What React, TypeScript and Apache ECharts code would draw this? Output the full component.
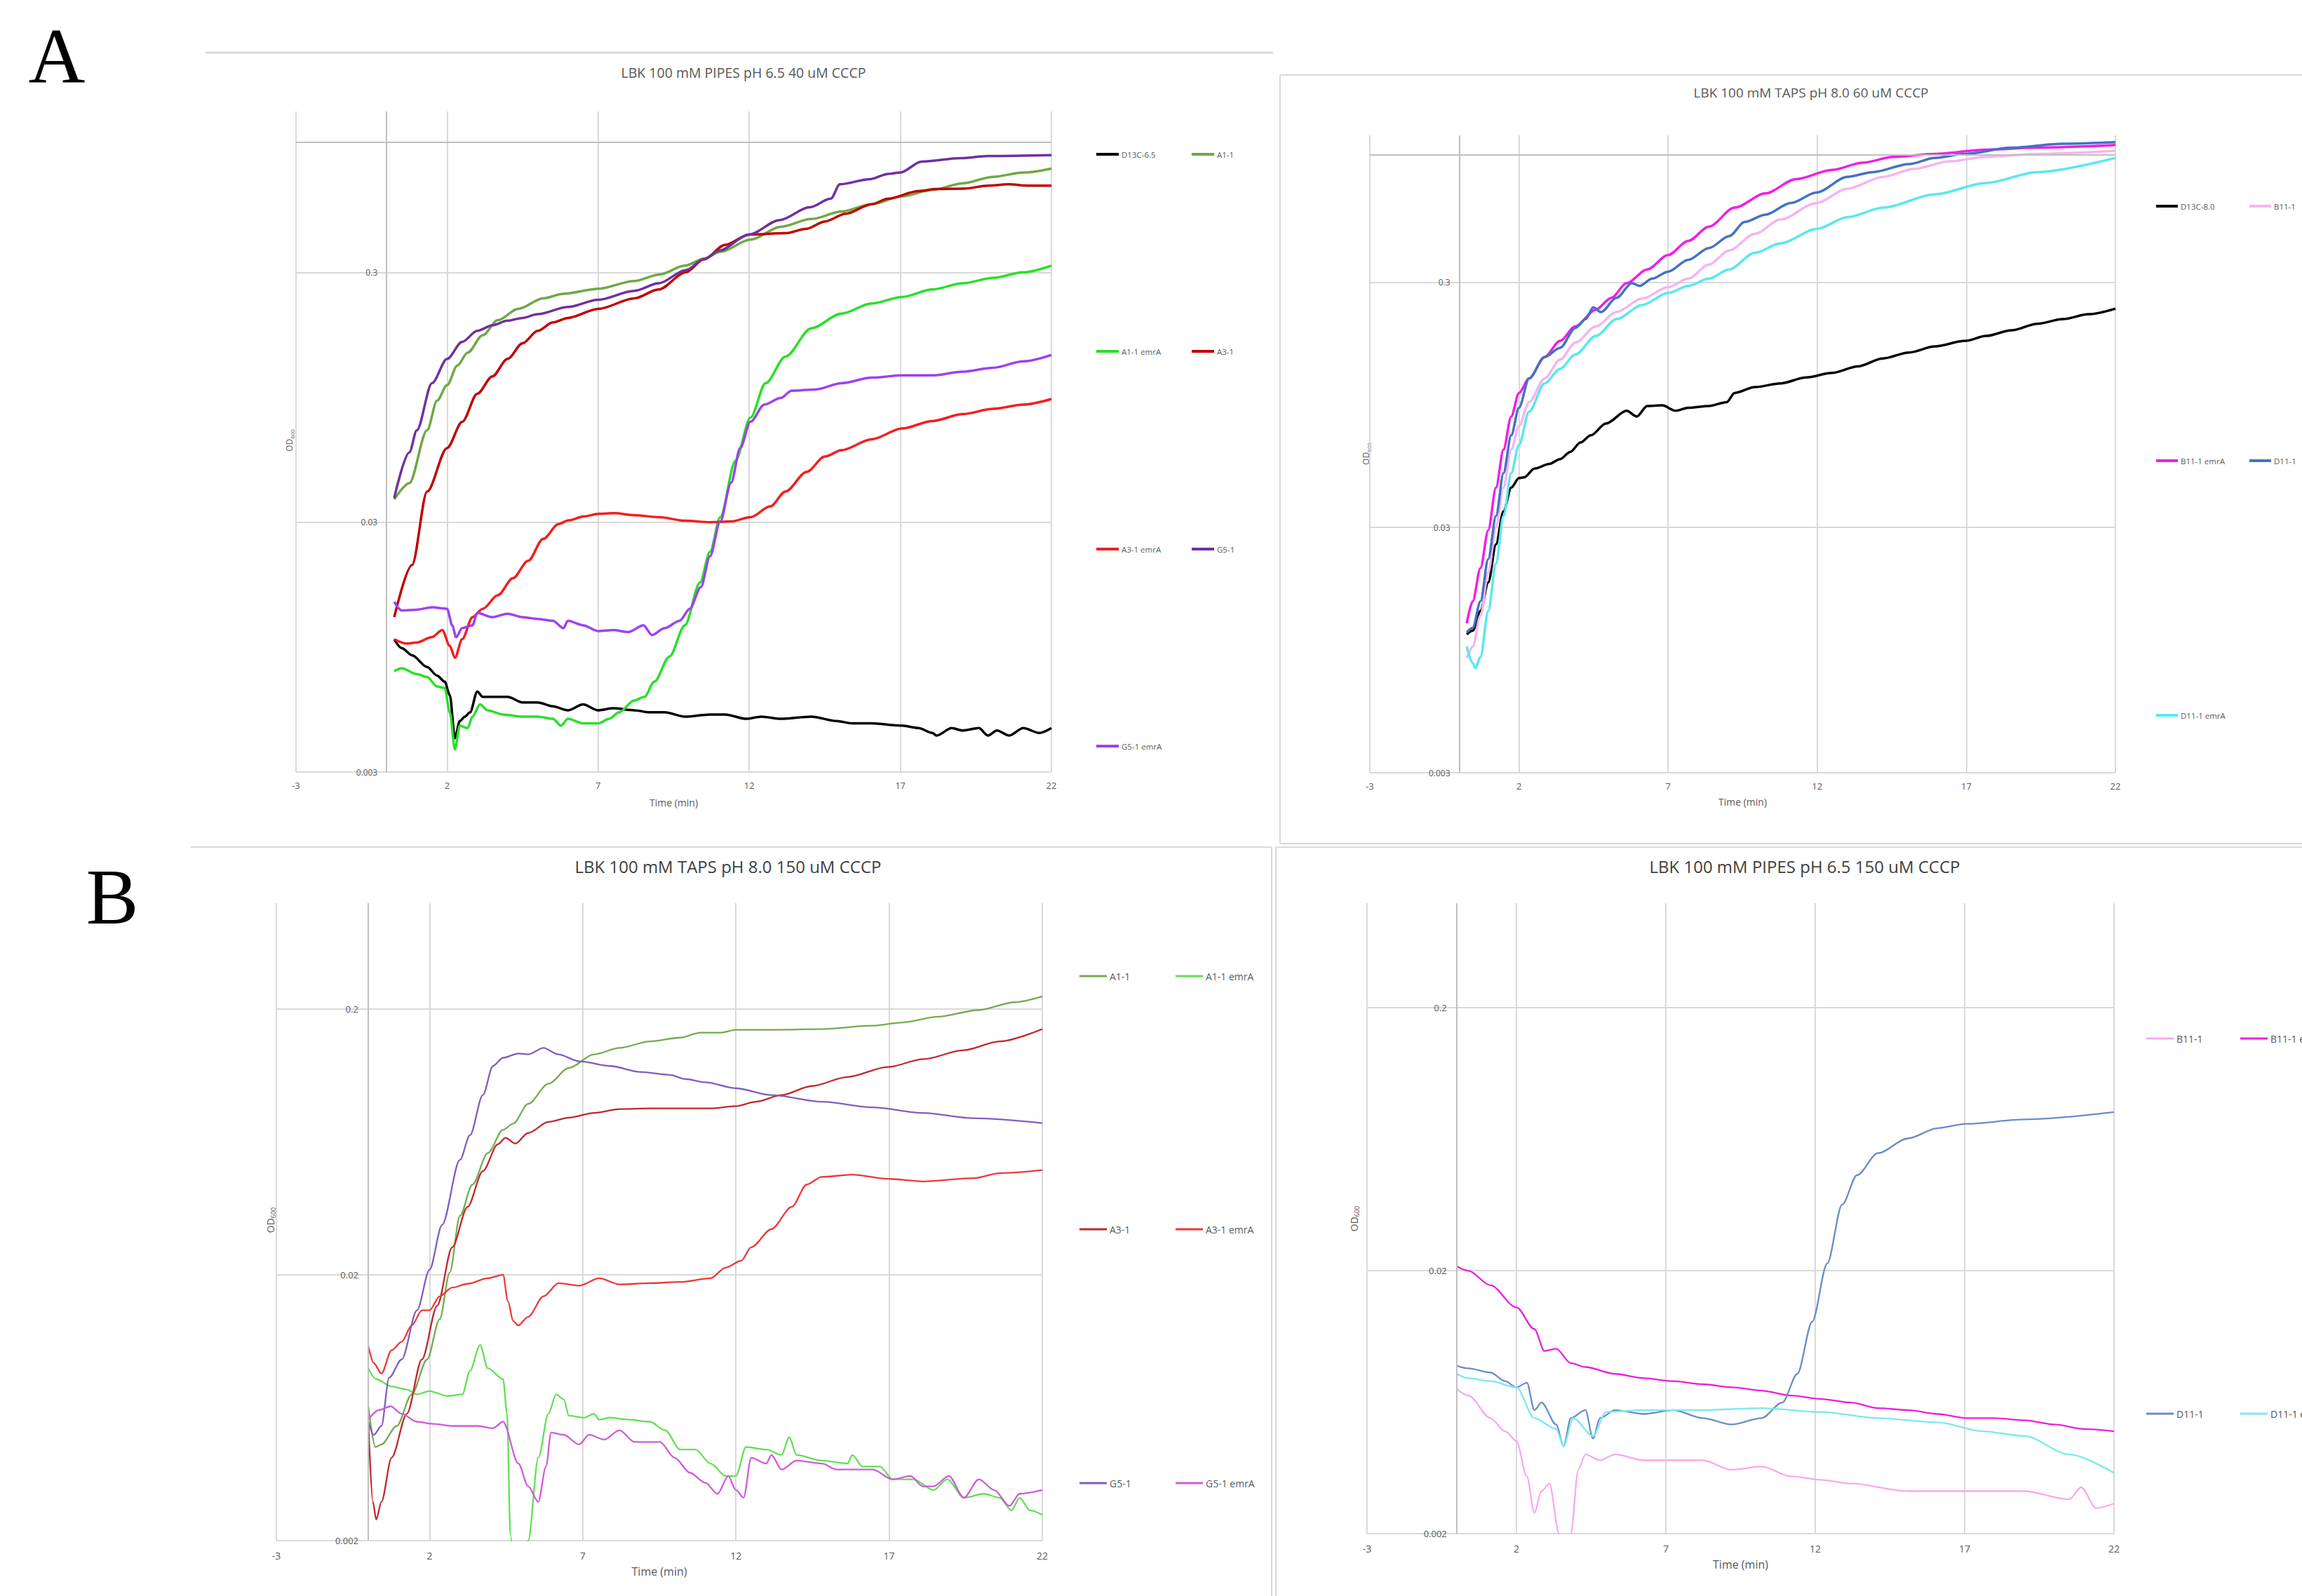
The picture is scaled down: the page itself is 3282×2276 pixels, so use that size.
import { useEffect, useRef } from 'react';
import * as echarts from 'echarts';

type Pt = [number, number];

const FONT = '"Open Sans", "Liberation Sans", sans-serif';

// ---------- axis ticks ----------
const X_MIN = -3;
const X_MAX = 22;
const X_STEP = 5;
const xTickLabels = ['-3', '2', '7', '12', '17', '22'];
const yTickLabelsA = ['0.003', '0.03', '0.3'];
const yTickLabelsB = ['0.002', '0.02', '0.2'];
const yMinA = 0.003;
const yMinB = 0.002;
const yMaxA1 = 1.32;
const yMaxA2 = 1.19;
const yMaxB = 0.5;
const crossA = 1; // value at which the horizontal axis crosses (panels A)
const crossB = 0.5; // (panels B, clamped to max)

// ---------- A (left): LBK 100 mM PIPES pH 6.5 40 uM CCCP ----------
const a1_D13C65: Pt[] = [[0.25,0.0102],[0.5,0.0094],[0.84,0.0088],[1.34,0.0079],[1.67,0.0073],[1.92,0.0069],[2.09,0.0061],[2.26,0.0041],[2.42,0.0048],[2.59,0.005],[2.76,0.0052],[3.0,0.0063],[3.18,0.006],[3.51,0.006],[4.0,0.006],[4.5,0.0057],[5.0,0.0057],[5.5,0.0055],[6.0,0.0053],[6.5,0.0056],[7.0,0.0053],[7.5,0.0054],[8.2,0.0053],[8.7,0.0052],[9.2,0.0052],[9.87,0.005],[10.7,0.0051],[11.2,0.0051],[11.9,0.0049],[12.4,0.005],[13.04,0.0049],[14.05,0.005],[14.9,0.0048],[15.4,0.0047],[16.05,0.0047],[17.06,0.0046],[17.6,0.0045],[18.06,0.0043],[18.2,0.0042],[18.7,0.0045],[19.06,0.0044],[19.6,0.0045],[19.9,0.0042],[20.2,0.0044],[20.6,0.0042],[21.07,0.0045],[21.6,0.0043],[22,0.0045]];
const a1_A11: Pt[] = [[0.25,0.037],[0.75,0.043],[1.34,0.07],[1.67,0.092],[2.0,0.106],[2.34,0.127],[2.68,0.143],[3.18,0.168],[3.68,0.193],[4.35,0.214],[5.18,0.236],[5.85,0.246],[7.02,0.258],[8.19,0.277],[9.03,0.294],[9.87,0.319],[10.53,0.341],[11.04,0.362],[12.04,0.405],[13.04,0.456],[14.05,0.49],[15.05,0.525],[16.05,0.562],[17.06,0.604],[18.06,0.641],[19.06,0.681],[20.07,0.723],[21.07,0.752],[22,0.78]];
const a1_A11emrA: Pt[] = [[0.25,0.0076],[0.5,0.0078],[1.0,0.0074],[1.34,0.0072],[1.67,0.0066],[1.92,0.0065],[2.09,0.0052],[2.26,0.0037],[2.42,0.0046],[2.68,0.0045],[2.84,0.005],[3.09,0.0056],[3.34,0.0053],[3.85,0.0051],[4.5,0.005],[5.0,0.005],[5.5,0.0049],[5.77,0.0046],[6.0,0.0049],[6.5,0.0047],[7.02,0.0047],[7.36,0.0049],[7.69,0.0052],[8.19,0.0058],[8.53,0.006],[8.86,0.0069],[9.36,0.0087],[9.87,0.0116],[10.37,0.0172],[10.7,0.0228],[11.04,0.0314],[11.54,0.0527],[12.04,0.0786],[12.54,0.108],[13.2,0.138],[14.05,0.179],[15.05,0.205],[16.05,0.225],[17.06,0.239],[18.06,0.256],[19.06,0.271],[20.07,0.285],[21.07,0.3],[22,0.319]];
const a1_A31: Pt[] = [[0.25,0.0125],[0.84,0.0202],[1.34,0.0398],[2.0,0.0594],[2.5,0.0756],[3.0,0.098],[3.5,0.115],[4.0,0.135],[4.5,0.156],[5.0,0.175],[5.5,0.189],[6.0,0.197],[7.0,0.214],[8.2,0.236],[9.0,0.256],[9.9,0.3],[10.5,0.338],[11.2,0.386],[12.0,0.425],[13.2,0.43],[13.9,0.448],[14.5,0.479],[15.2,0.515],[16.05,0.562],[16.6,0.591],[17.6,0.634],[18.2,0.646],[19.1,0.648],[19.9,0.667],[20.6,0.675],[21.2,0.667],[22,0.667]];
const a1_A31emrA: Pt[] = [[0.25,0.0102],[0.67,0.0098],[1.0,0.0099],[1.5,0.0104],[1.84,0.0111],[2.09,0.0096],[2.26,0.0086],[2.5,0.0102],[2.84,0.0125],[3.18,0.0135],[3.68,0.0153],[4.18,0.0179],[4.68,0.021],[5.18,0.0257],[5.69,0.0295],[6.02,0.0305],[6.52,0.0316],[7.02,0.0324],[7.53,0.0326],[8.19,0.032],[9.03,0.0314],[9.87,0.0304],[10.7,0.03],[11.4,0.0302],[12.04,0.0314],[12.7,0.0347],[13.2,0.0398],[13.9,0.0477],[14.5,0.0549],[15.05,0.0582],[16.05,0.0644],[17.06,0.0711],[18.06,0.0762],[19.06,0.0812],[20.07,0.0852],[21.07,0.0886],[22,0.0933]];
const a1_G51: Pt[] = [[0.25,0.0375],[0.75,0.057],[1.0,0.07],[1.5,0.108],[2.0,0.135],[2.5,0.158],[3.0,0.175],[3.5,0.184],[4.0,0.192],[4.5,0.197],[5.0,0.204],[6.0,0.218],[7.0,0.233],[8.2,0.253],[9.0,0.271],[9.9,0.306],[10.5,0.338],[11.0,0.366],[12.0,0.425],[13.0,0.485],[14.0,0.546],[14.7,0.591],[15.0,0.675],[16.0,0.708],[16.6,0.743],[17.0,0.752],[17.7,0.832],[19.0,0.859],[19.9,0.876],[22,0.883]];
const a1_G51emrA: Pt[] = [[0.25,0.0144],[0.5,0.0133],[1.0,0.0134],[1.5,0.0137],[2.0,0.0135],[2.17,0.0116],[2.3,0.0104],[2.5,0.0113],[2.84,0.0116],[3.0,0.013],[3.5,0.0125],[4.0,0.0129],[4.5,0.0125],[5.0,0.0123],[5.5,0.0121],[5.85,0.0113],[6.0,0.0121],[6.5,0.0116],[7.0,0.011],[7.5,0.0111],[8.0,0.0109],[8.5,0.0116],[8.78,0.0106],[9.2,0.0113],[9.7,0.0121],[10.03,0.0135],[10.4,0.0165],[10.7,0.0219],[11.04,0.0302],[11.4,0.0432],[11.7,0.0594],[12.04,0.0756],[12.5,0.0886],[13.04,0.0942],[13.4,0.1007],[14.2,0.1019],[15.05,0.108],[16.05,0.1136],[17.06,0.116],[18.06,0.116],[19.06,0.12],[20.07,0.1245],[21.07,0.132],[22,0.14]];

// ---------- A (right): LBK 100 mM TAPS pH 8.0 60 uM CCCP ----------
const a2_D13C80: Pt[] = [[0.25,0.011],[0.45,0.0114],[0.71,0.0137],[0.97,0.0179],[1.23,0.0256],[1.48,0.0349],[1.74,0.0436],[2.0,0.0477],[2.17,0.048],[2.52,0.0521],[3.03,0.0545],[3.38,0.057],[3.72,0.0609],[4.06,0.0666],[4.41,0.0712],[4.92,0.0796],[5.61,0.0897],[5.95,0.085],[6.3,0.0938],[6.81,0.0944],[7.25,0.0897],[7.68,0.0923],[8.37,0.0938],[8.97,0.0973],[9.23,0.106],[9.91,0.112],[10.77,0.116],[11.63,0.1226],[12.5,0.128],[13.36,0.136],[14.2,0.1465],[15.08,0.155],[15.94,0.164],[16.97,0.173],[17.66,0.181],[18.52,0.191],[19.38,0.203],[20.24,0.212],[21.1,0.222],[22,0.234]];
const a2_B111: Pt[] = [[0.25,0.0088],[0.45,0.0098],[0.71,0.0131],[0.97,0.0196],[1.23,0.0302],[1.48,0.0436],[1.74,0.0623],[2.0,0.0778],[2.34,0.0973],[2.86,0.1215],[3.38,0.145],[3.89,0.17],[4.58,0.198],[5.27,0.2265],[6.13,0.257],[7.0,0.286],[7.68,0.31],[8.37,0.354],[9.05,0.404],[9.91,0.472],[10.77,0.54],[11.98,0.631],[13.01,0.721],[14.22,0.806],[15.25,0.869],[16.45,0.933],[17.66,0.972],[19.38,1.0],[22,1.03]];
const a2_B111emrA: Pt[] = [[0.25,0.0122],[0.45,0.015],[0.71,0.0205],[0.97,0.0292],[1.23,0.0436],[1.48,0.0623],[1.74,0.085],[2.0,0.106],[2.34,0.1215],[2.86,0.1485],[3.38,0.173],[3.89,0.198],[4.58,0.232],[5.1,0.259],[5.61,0.297],[6.3,0.338],[7.0,0.387],[7.68,0.442],[8.37,0.505],[9.23,0.604],[10.26,0.69],[11.29,0.789],[12.5,0.861],[13.53,0.921],[14.56,0.972],[15.94,1.0],[17.66,1.04],[19.38,1.06],[22,1.087]];
const a2_D111: Pt[] = [[0.25,0.0112],[0.45,0.0117],[0.71,0.015],[0.97,0.0223],[1.23,0.0334],[1.48,0.0499],[1.74,0.0712],[2.0,0.0923],[2.34,0.1215],[2.86,0.1485],[3.38,0.162],[3.89,0.195],[4.24,0.212],[4.49,0.237],[4.75,0.2265],[5.27,0.259],[5.79,0.297],[6.04,0.2895],[6.47,0.31],[7.0,0.331],[7.68,0.37],[8.37,0.413],[9.05,0.462],[9.57,0.528],[10.26,0.565],[11.12,0.631],[11.98,0.696],[13.01,0.806],[13.87,0.843],[15.08,0.909],[15.94,0.963],[16.97,1.0],[18.52,1.06],[20.24,1.1],[22,1.116]];
const a2_D111emrA: Pt[] = [[0.25,0.0098],[0.45,0.0084],[0.54,0.008],[0.71,0.0089],[0.97,0.0137],[1.23,0.0214],[1.48,0.0334],[1.74,0.0499],[2.0,0.0651],[2.34,0.089],[2.86,0.116],[3.38,0.133],[3.89,0.152],[4.58,0.181],[5.27,0.212],[6.13,0.242],[7.0,0.271],[7.68,0.2895],[8.37,0.31],[9.05,0.338],[9.91,0.395],[10.77,0.432],[11.98,0.494],[13.01,0.552],[14.22,0.604],[15.94,0.684],[17.66,0.761],[19.38,0.843],[22,0.963]];

// ---------- B (left): LBK 100 mM TAPS pH 8.0 150 uM CCCP ----------
const b1_A11: Pt[] = [[0,0.0064],[0.23,0.0045],[0.43,0.0046],[0.93,0.0054],[1.42,0.0071],[1.92,0.0096],[2.33,0.0136],[2.66,0.0204],[2.99,0.0333],[3.4,0.0437],[3.9,0.0574],[4.4,0.0702],[4.73,0.0741],[5.22,0.0879],[5.88,0.1047],[6.55,0.12],[7.37,0.135],[8.2,0.1427],[9.19,0.151],[10.18,0.156],[10.84,0.163],[11.5,0.163],[12.0,0.167],[13.16,0.167],[14.8,0.168],[16.46,0.173],[17.45,0.178],[18.6,0.187],[19.9,0.198],[21.1,0.212],[22,0.223]];
const b1_A11emrA: Pt[] = [[0,0.0089],[0.26,0.0081],[0.76,0.0076],[1.26,0.0074],[1.59,0.0071],[2.0,0.0073],[2.58,0.007],[3.07,0.0071],[3.32,0.0087],[3.65,0.0109],[3.9,0.0089],[4.4,0.0081],[4.53,0.006],[4.64,0.0021],[4.85,0.0006],[5.0,0.0008],[5.22,0.002],[5.55,0.0041],[5.88,0.006],[6.13,0.0071],[6.38,0.0068],[6.55,0.0059],[7.04,0.0058],[7.37,0.006],[7.54,0.0057],[7.87,0.0058],[8.53,0.0057],[9.19,0.0056],[9.69,0.0052],[10.18,0.0044],[10.68,0.0044],[11.17,0.0039],[11.67,0.0035],[12.0,0.0035],[12.33,0.0045],[12.99,0.0044],[13.49,0.0042],[13.74,0.0049],[13.98,0.0042],[14.8,0.004],[15.64,0.0039],[15.8,0.0042],[16.13,0.0038],[16.7,0.0038],[17.12,0.0034],[17.79,0.0034],[18.45,0.0031],[18.9,0.0034],[19.44,0.0029],[20.1,0.003],[20.6,0.0029],[21.0,0.0026],[21.26,0.0029],[21.6,0.0026],[22,0.0025]];
const b1_A31: Pt[] = [[0,0.0056],[0.15,0.0028],[0.26,0.0024],[0.43,0.0028],[0.76,0.0041],[1.26,0.006],[1.75,0.0096],[2.25,0.0153],[2.74,0.0254],[3.24,0.036],[3.74,0.0491],[4.23,0.062],[4.48,0.0655],[4.8,0.0623],[5.22,0.0683],[5.88,0.0752],[6.55,0.078],[7.37,0.0813],[8.2,0.084],[9.19,0.0845],[10.18,0.0845],[11.17,0.0845],[12.0,0.0862],[12.66,0.0896],[13.49,0.0949],[14.48,0.1026],[15.64,0.111],[16.96,0.121],[18.12,0.1295],[19.44,0.14],[20.6,0.151],[22,0.168]];
const b1_A31emrA: Pt[] = [[0,0.0108],[0.18,0.0093],[0.43,0.0085],[0.76,0.0104],[1.09,0.0112],[1.42,0.0129],[1.75,0.0147],[2.0,0.0147],[2.33,0.0166],[2.74,0.0179],[3.24,0.0185],[3.9,0.0194],[4.4,0.02],[4.56,0.0159],[4.73,0.0134],[4.89,0.0129],[5.22,0.0139],[5.72,0.0166],[6.21,0.0186],[6.88,0.0182],[7.54,0.0194],[8.2,0.0184],[9.19,0.0186],[10.18,0.0188],[11.17,0.0194],[11.67,0.0213],[12.17,0.0226],[12.5,0.0254],[13.16,0.0297],[13.82,0.036],[14.31,0.0437],[14.8,0.0467],[15.8,0.0476],[16.96,0.0459],[18.1,0.0449],[19.77,0.0462],[20.6,0.0482],[22,0.0495]];
const b1_G51: Pt[] = [[0,0.0056],[0.18,0.005],[0.43,0.0054],[0.68,0.0082],[1.09,0.0096],[1.59,0.0147],[2.0,0.0209],[2.41,0.0308],[2.99,0.0541],[3.32,0.067],[3.74,0.0949],[4.07,0.122],[4.4,0.131],[4.9,0.136],[5.22,0.135],[5.72,0.1427],[6.2,0.135],[6.9,0.127],[7.9,0.122],[8.86,0.116],[9.85,0.113],[10.35,0.109],[11.0,0.106],[12.0,0.1006],[13.16,0.0949],[14.8,0.0896],[16.46,0.0853],[18.1,0.0813],[19.77,0.0776],[22,0.0744]];
const b1_G51emrA: Pt[] = [[0,0.0057],[0.35,0.0062],[0.73,0.0064],[1.09,0.006],[1.59,0.0056],[2.08,0.0055],[2.74,0.0054],[3.57,0.0054],[4.07,0.0053],[4.4,0.0056],[4.9,0.0039],[5.22,0.0032],[5.55,0.0028],[5.8,0.0038],[5.97,0.0051],[6.38,0.005],[6.88,0.0046],[7.21,0.005],[7.7,0.0048],[8.2,0.0052],[8.69,0.0047],[9.52,0.0047],[10.0,0.0041],[10.5,0.0036],[11.0,0.0033],[11.4,0.003],[11.75,0.0035],[12.0,0.0031],[12.25,0.0029],[12.5,0.0041],[12.99,0.0039],[13.16,0.0042],[13.49,0.0037],[13.98,0.004],[14.8,0.0039],[15.3,0.0037],[15.8,0.0037],[16.46,0.0037],[17.12,0.0034],[17.7,0.0035],[18.1,0.0032],[18.45,0.0032],[18.95,0.0035],[19.44,0.0029],[19.93,0.0034],[20.43,0.0031],[20.93,0.0027],[21.26,0.003],[22,0.0031]];

// ---------- B (right): LBK 100 mM PIPES pH 6.5 150 uM CCCP ----------
const b2_B111: Pt[] = [[0,0.0071],[0.39,0.0067],[1.13,0.0055],[1.62,0.0049],[2.0,0.0045],[2.35,0.0033],[2.6,0.0024],[2.84,0.0029],[3.1,0.0031],[3.43,0.002],[3.6,0.0012],[3.82,0.002],[4.07,0.0035],[4.31,0.004],[4.8,0.0038],[5.3,0.004],[6.27,0.0038],[7.25,0.0038],[8.24,0.0038],[9.2,0.0035],[10.2,0.0036],[11.2,0.0033],[12.2,0.0032],[13.2,0.0031],[15.1,0.0029],[17.06,0.0029],[19.0,0.0029],[20.5,0.0027],[20.9,0.003],[21.4,0.0025],[22,0.0026]];
const b2_B111emrA: Pt[] = [[0,0.0208],[0.39,0.02],[1.13,0.0176],[2.0,0.0145],[2.6,0.012],[2.94,0.0099],[3.33,0.0101],[3.82,0.0089],[4.31,0.0086],[5.3,0.0081],[6.27,0.0078],[7.25,0.0076],[8.24,0.0074],[9.2,0.0072],[10.2,0.007],[11.2,0.0067],[12.2,0.0065],[13.2,0.0063],[14.1,0.006],[15.1,0.0059],[16.1,0.0057],[17.06,0.0055],[18.0,0.0055],[19.0,0.0054],[20.0,0.0052],[21.0,0.005],[22,0.0049]];
const b2_D111: Pt[] = [[0,0.0087],[0.39,0.0085],[1.13,0.0082],[1.62,0.0076],[2.0,0.0072],[2.35,0.0075],[2.6,0.0059],[2.84,0.0063],[3.33,0.0052],[3.58,0.0043],[3.82,0.0055],[4.31,0.0059],[4.56,0.0046],[4.8,0.0055],[5.3,0.0059],[6.27,0.0057],[7.25,0.0059],[8.24,0.0055],[9.2,0.0052],[10.2,0.0055],[10.9,0.0063],[11.4,0.0081],[11.9,0.0128],[12.4,0.0213],[12.9,0.0357],[13.4,0.0462],[14.1,0.056],[15.1,0.0637],[16.1,0.0697],[17.06,0.0724],[19.0,0.0752],[22,0.0802]];
const b2_D111emrA: Pt[] = [[0,0.0081],[0.39,0.0078],[1.13,0.0076],[2.0,0.0072],[2.6,0.0055],[3.33,0.005],[3.58,0.0043],[3.9,0.0055],[4.56,0.0047],[5.0,0.0058],[6.27,0.0059],[8.24,0.0059],[10.2,0.006],[12.2,0.0058],[14.1,0.0055],[16.1,0.0053],[17.6,0.0049],[19.0,0.0047],[20.5,0.004],[22,0.0034]];

type SeriesDef = { name: string; pts: Pt[]; color: string };

const panelSeries: SeriesDef[][] = [
  [
    { name: 'D13C-6.5', pts: a1_D13C65, color: '#000000' },
    { name: 'A1-1', pts: a1_A11, color: '#6fa845' },
    { name: 'A1-1 emrA', pts: a1_A11emrA, color: '#28e028' },
    { name: 'A3-1', pts: a1_A31, color: '#c00000' },
    { name: 'A3-1 emrA', pts: a1_A31emrA, color: '#f41e1e' },
    { name: 'G5-1', pts: a1_G51, color: '#7030a0' },
    { name: 'G5-1 emrA', pts: a1_G51emrA, color: '#9c42f0' },
  ],
  [
    { name: 'D13C-8.0', pts: a2_D13C80, color: '#000000' },
    { name: 'B11-1', pts: a2_B111, color: '#f5b5ef' },
    { name: 'B11-1 emrA', pts: a2_B111emrA, color: '#f01ee6' },
    { name: 'D11-1', pts: a2_D111, color: '#4472c4' },
    { name: 'D11-1 emrA', pts: a2_D111emrA, color: '#58e8ee' },
  ],
  [
    { name: 'A1-1', pts: b1_A11, color: '#74ab50' },
    { name: 'A1-1 emrA', pts: b1_A11emrA, color: '#62e052' },
    { name: 'A3-1', pts: b1_A31, color: '#c1272d' },
    { name: 'A3-1 emrA', pts: b1_A31emrA, color: '#ee3838' },
    { name: 'G5-1', pts: b1_G51, color: '#7f5fbf' },
    { name: 'G5-1 emrA', pts: b1_G51emrA, color: '#d05ad8' },
  ],
  [
    { name: 'B11-1', pts: b2_B111, color: '#f7a8f0' },
    { name: 'B11-1 emrA', pts: b2_B111emrA, color: '#ec1ee0' },
    { name: 'D11-1', pts: b2_D111, color: '#6a8cc8' },
    { name: 'D11-1 emrA', pts: b2_D111emrA, color: '#7ae8ef' },
  ],
];

const panelTitles = [
  'LBK 100 mM PIPES pH 6.5 40 uM CCCP',
  'LBK 100 mM TAPS pH 8.0 60 uM CCCP',
  'LBK 100 mM TAPS pH 8.0 150 uM CCCP',
  'LBK 100 mM PIPES pH 6.5 150 uM CCCP',
];

// ---------- layout (pixels) ----------
const layout = [
  { grid: { left: 422, top: 159, width: 1077, height: 942 }, base: yMinA, max: yMaxA1, cross: crossA, yLabels: yTickLabelsA,
    titleX: 1060, titleY: 103, titleSize: 19.5, titleColor: '#595959', odX: 412, odY: 628, odSize: 12,
    axisFont: 13, xMargin: 12, yMargin: 13, nameFont: 14, nameGap: 36, lineW: 3.5,
    legCols: [1563, 1699], legRows: [220, 501, 783, 1064], legW: 32, legH: 4, legFont: 11.5 },
  { grid: { left: 1953, top: 193, width: 1063, height: 909 }, base: yMinA, max: yMaxA2, cross: crossA, yLabels: yTickLabelsA,
    titleX: 2582, titleY: 132, titleSize: 19, titleColor: '#595959', odX: 1947, odY: 647, odSize: 12,
    axisFont: 13, xMargin: 12, yMargin: 13, nameFont: 14, nameGap: 34, lineW: 3.5,
    legCols: [3074, 3207], legRows: [294, 657, 1020], legW: 31, legH: 4, legFont: 11.5 },
  { grid: { left: 394, top: 1288, width: 1092, height: 909 }, base: yMinB, max: yMaxB, cross: crossB, yLabels: yTickLabelsB,
    titleX: 1038, titleY: 1235, titleSize: 24, titleColor: '#404040', odX: 385, odY: 1740, odSize: 14,
    axisFont: 14, xMargin: 14, yMargin: 14, nameFont: 16, nameGap: 36, lineW: 2.3,
    legCols: [1539, 1676], legRows: [1392, 1753, 2115], legW: 39, legH: 3, legFont: 14 },
  { grid: { left: 1949, top: 1288, width: 1065, height: 899 }, base: yMinB, max: yMaxB, cross: crossB, yLabels: yTickLabelsB,
    titleX: 2573, titleY: 1235, titleSize: 24, titleColor: '#404040', odX: 1930, odY: 1738, odSize: 14,
    axisFont: 14, xMargin: 14, yMargin: 14, nameFont: 16, nameGap: 36, lineW: 2.3,
    legCols: [3060, 3194], legRows: [1481, 2016], legW: 39, legH: 3, legFont: 14 },
];

const GRID_COLOR = '#d9d9d9';
const AXIS_COLOR = '#bfbfbf';
const LABEL_COLOR = '#595959';

function buildOption() {
  const xRange = X_MAX - X_MIN;
  const grids = layout.map((l) => ({ ...l.grid }));
  const xAxes = layout.map((l, i) => ({
    type: 'value', gridIndex: i, min: 0, max: xRange, interval: X_STEP,
    axisLine: { show: false }, axisTick: { show: false },
    splitLine: { show: true, lineStyle: { color: GRID_COLOR, width: 2 } },
    axisLabel: {
      color: LABEL_COLOR, fontSize: l.axisFont, fontFamily: FONT, margin: l.xMargin,
      formatter: (v: number) => xTickLabels[Math.round(v / X_STEP)] ?? '',
    },
    name: 'Time (min)', nameLocation: 'middle', nameGap: l.nameGap,
    nameTextStyle: { color: LABEL_COLOR, fontSize: l.nameFont, fontFamily: FONT },
  }));
  const yAxes = layout.map((l, i) => ({
    type: 'value', gridIndex: i, min: 0, max: Math.log10(l.max / l.base), interval: 1,
    position: 'left', offset: -(l.grid.width * (0 - X_MIN)) / xRange,
    axisLine: { show: false, onZero: false }, axisTick: { show: false },
    splitLine: { show: true, showMaxLine: false, lineStyle: { color: GRID_COLOR, width: 2 } },
    axisLabel: {
      color: LABEL_COLOR, fontSize: l.axisFont - 1, fontFamily: FONT, margin: l.yMargin,
      formatter: (v: number) => {
        const k = Math.round(v);
        return Math.abs(v - k) < 1e-6 && l.yLabels[k] ? l.yLabels[k] : '';
      },
    },
  }));
  const series: any[] = [];
  panelSeries.forEach((defs, i) => {
    const l = layout[i];
    defs.forEach((d, k) => {
      series.push({
        type: 'line', name: d.name, xAxisIndex: i, yAxisIndex: i,
        data: d.pts.map(([t, v]) => [t - X_MIN, Math.log10(v / l.base)]),
        showSymbol: false, symbol: 'none', smooth: 0.3, smoothMonotone: 'x', clip: true, silent: true,
        lineStyle: { color: d.color, width: l.lineW }, itemStyle: { color: d.color },
        z: 3,
        markLine: k === 0 ? {
          silent: true, symbol: ['none', 'none'], label: { show: false }, animation: false,
          lineStyle: { color: AXIS_COLOR, width: 2, type: 'solid' },
          data: [{ xAxis: 0 - X_MIN }, { yAxis: Math.log10(l.cross / l.base) }],
        } : undefined,
      });
    });
  });
  const legends: any[] = [];
  panelSeries.forEach((defs, i) => {
    const l = layout[i];
    defs.forEach((d, k) => {
      const lh = Math.round(l.legFont * 1.3);
      legends.push({
        left: l.legCols[k % 2], top: l.legRows[Math.floor(k / 2)] - lh / 2,
        orient: 'horizontal', padding: 0, itemGap: 0, icon: 'rect',
        itemWidth: l.legW, itemHeight: l.legH, selectedMode: false,
        textStyle: { color: LABEL_COLOR, fontSize: l.legFont, fontFamily: FONT, lineHeight: lh, padding: [0, 0, 0, -1] },
        data: [{ name: d.name, itemStyle: { color: d.color, borderWidth: 0 } }],
      });
    });
  });
  const frameLine = (x1: number, y1: number, x2: number, y2: number, w = 2) => ({
    type: 'line', silent: true, shape: { x1, y1, x2, y2 }, style: { stroke: GRID_COLOR, lineWidth: w },
  });
  const graphic: any[] = [
    frameLine(293, 75, 1815, 75, 3),
    frameLine(1825, 107, 3282, 107),
    frameLine(1825, 107, 1825, 1203),
    frameLine(1825, 1203, 3282, 1203),
    frameLine(272, 1208, 1813, 1208),
    frameLine(1813, 1208, 1813, 2276),
    frameLine(1819, 1208, 3282, 1208),
    frameLine(1819, 1208, 1819, 2276),
    { type: 'text', x: 81, y: 80, silent: true, style: { text: 'A', font: '112px "Liberation Serif", "DejaVu Serif", serif', fill: '#000', align: 'center', verticalAlign: 'middle' } },
    { type: 'text', x: 160, y: 1279, silent: true, style: { text: 'B', font: '112px "Liberation Serif", "DejaVu Serif", serif', fill: '#000', align: 'center', verticalAlign: 'middle' } },
  ];
  layout.forEach((l, i) => {
    graphic.push({
      type: 'text', x: l.titleX, y: l.titleY, silent: true,
      style: { text: panelTitles[i], fontSize: l.titleSize, fontFamily: FONT, fill: l.titleColor, align: 'center', verticalAlign: 'middle' },
    });
    graphic.push({
      type: 'text', x: l.odX, y: l.odY, rotation: Math.PI / 2, silent: true,
      style: {
        text: '{a|OD}{b|600}', align: 'center', verticalAlign: 'middle',
        rich: {
          a: { fontSize: l.odSize, fontFamily: FONT, fill: LABEL_COLOR, verticalAlign: 'bottom' },
          b: { fontSize: Math.round(l.odSize * 0.65), fontFamily: FONT, fill: LABEL_COLOR, verticalAlign: 'bottom', padding: [0, 0, -2, 0] },
        },
      },
    });
  });
  return {
    animation: false,
    backgroundColor: '#ffffff',
    textStyle: { fontFamily: FONT },
    grid: grids,
    xAxis: xAxes,
    yAxis: yAxes,
    legend: legends,
    series,
    graphic,
  };
}

export default function App() {
  const ref = useRef<HTMLDivElement>(null);
  useEffect(() => {
    if (!ref.current) return;
    const chart = echarts.init(ref.current, undefined, { renderer: 'svg' });
    chart.setOption(buildOption() as any);
    return () => chart.dispose();
  }, []);
  return (
    <div
      ref={ref}
      style={{ position: 'absolute', left: 0, top: 0, width: 3282, height: 2276, background: '#fff' }}
    />
  );
}
